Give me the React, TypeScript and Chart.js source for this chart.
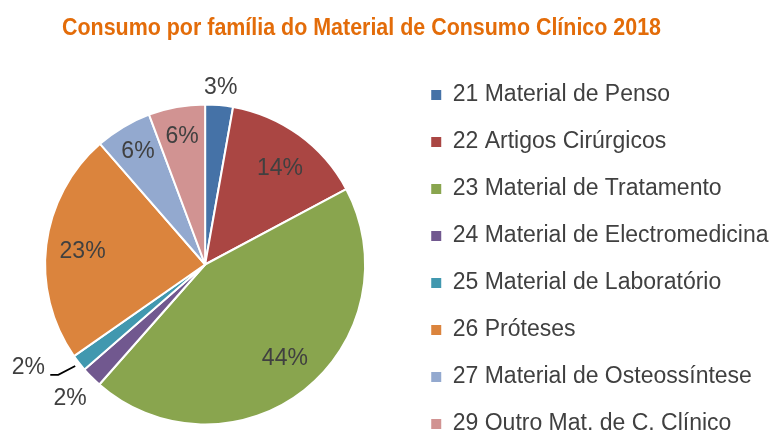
import React, { useEffect, useRef } from 'react';
import { Chart, registerables } from 'chart.js';

Chart.register(...registerables);

const titleText = 'Consumo por família do Material de Consumo Clínico 2018';
const categories = [
  '21 Material de Penso',
  '22 Artigos Cirúrgicos',
  '23 Material de Tratamento',
  '24 Material de Electromedicina',
  '25 Material de Laboratório',
  '26 Próteses',
  '27 Material de Osteossíntese',
  '29 Outro Mat. de C. Clínico',
];
const shares = [2.8, 14.4, 44.3, 2.1, 1.7, 23.3, 5.7, 5.7];
const percentLabels = ['3%', '14%', '44%', '2%', '2%', '23%', '6%', '6%'];
const colors = ['#4572A7', '#AA4643', '#89A54E', '#71588F', '#4198AF', '#DB843D', '#93A9CF', '#D19392'];

// label placement style: radius factor and angular nudge (degrees)
const labelPlacement = [
  { r: 1.11, da: 0 },
  { r: 0.76, da: 2 },
  { r: 0.77, da: -2 },
  { r: 1.19, da: 0 },
  { r: 1.28, da: 7.7, leader: true },
  { r: 0.77, da: -1 },
  { r: 0.82, da: 0 },
  { r: 0.81, da: 0 },
];

// layout of the pie's box (pixels)
const pieBox = { top: 104.5, bottom: 424.5 };

const FONT = '"Liberation Sans", Arial, sans-serif';

const pieAreaPlugin = {
  id: 'pieArea',
  afterLayout(chart: any) {
    const a = chart.chartArea;
    a.top = pieBox.top;
    a.bottom = pieBox.bottom;
    a.height = pieBox.bottom - pieBox.top;
  },
};

const titlePlugin = {
  id: 'narrowTitle',
  afterDraw(chart: any) {
    const ctx = chart.ctx;
    ctx.save();
    ctx.font = `bold 23.5px ${FONT}`;
    const w = ctx.measureText(titleText).width;
    const target = 599;
    ctx.translate(62, 35);
    ctx.scale(target / w, 1);
    ctx.fillStyle = '#E36C09';
    ctx.textBaseline = 'alphabetic';
    ctx.textAlign = 'left';
    ctx.fillText(titleText, 0, 0);
    ctx.restore();
  },
};

const labelsPlugin = {
  id: 'sliceLabels',
  afterDraw(chart: any) {
    const ctx = chart.ctx;
    const meta = chart.getDatasetMeta(0);
    ctx.save();
    ctx.font = `23px ${FONT}`;
    ctx.fillStyle = '#404040';
    ctx.textAlign = 'center';
    ctx.textBaseline = 'middle';
    meta.data.forEach((arc: any, i: number) => {
      const p = arc.getProps(['x', 'y', 'startAngle', 'endAngle', 'outerRadius'], true);
      const pl = labelPlacement[i];
      const mid = (p.startAngle + p.endAngle) / 2;
      const a = mid + (pl.da * Math.PI) / 180;
      const lx = p.x + Math.cos(a) * p.outerRadius * pl.r;
      const ly = p.y + Math.sin(a) * p.outerRadius * pl.r;
      ctx.fillText(percentLabels[i], lx, ly);
      if (pl.leader) {
        const sx = p.x + Math.cos(mid) * p.outerRadius * 1.03;
        const sy = p.y + Math.sin(mid) * p.outerRadius * 1.03;
        ctx.beginPath();
        ctx.strokeStyle = '#000000';
        ctx.lineWidth = 1.75;
        ctx.moveTo(sx, sy);
        ctx.lineTo(lx + 30, ly + 7);
        ctx.lineTo(lx + 22, ly + 7);
        ctx.stroke();
      }
    });
    ctx.restore();
  },
};

export default function App() {
  const ref = useRef<HTMLCanvasElement | null>(null);
  useEffect(() => {
    if (!ref.current) return;
    const baseGen = (Chart as any).overrides.pie.plugins.legend.labels.generateLabels;
    const chart = new Chart(ref.current, {
      type: 'pie',
      data: {
        labels: categories,
        datasets: [
          {
            data: shares,
            backgroundColor: colors,
            borderColor: '#FFFFFF',
            borderWidth: 2,
          },
        ],
      },
      options: {
        responsive: false,
        animation: false,
        radius: 160,
        layout: { padding: { left: 3, right: -7.5, top: 58, bottom: -27 } },
        plugins: {
          title: { display: false },
          tooltip: { enabled: false },
          legend: {
            display: true,
            position: 'right',
            align: 'center',
            labels: {
              font: { family: FONT, size: 23 },
              color: '#404040',
              boxWidth: 10,
              boxHeight: 10,
              padding: 24,
              generateLabels: (c: any) =>
                baseGen(c).map((l: any) => ({ ...l, lineWidth: 0, strokeStyle: 'rgba(0,0,0,0)' })),
            },
          },
        },
      } as any,
      plugins: [pieAreaPlugin, titlePlugin, labelsPlugin],
    });
    return () => chart.destroy();
  }, []);
  return (
    <div style={{ position: 'absolute', left: 0, top: 0, width: 771, height: 434, background: '#fff' }}>
      <canvas ref={ref} width={771} height={434} style={{ display: 'block' }} />
    </div>
  );
}
